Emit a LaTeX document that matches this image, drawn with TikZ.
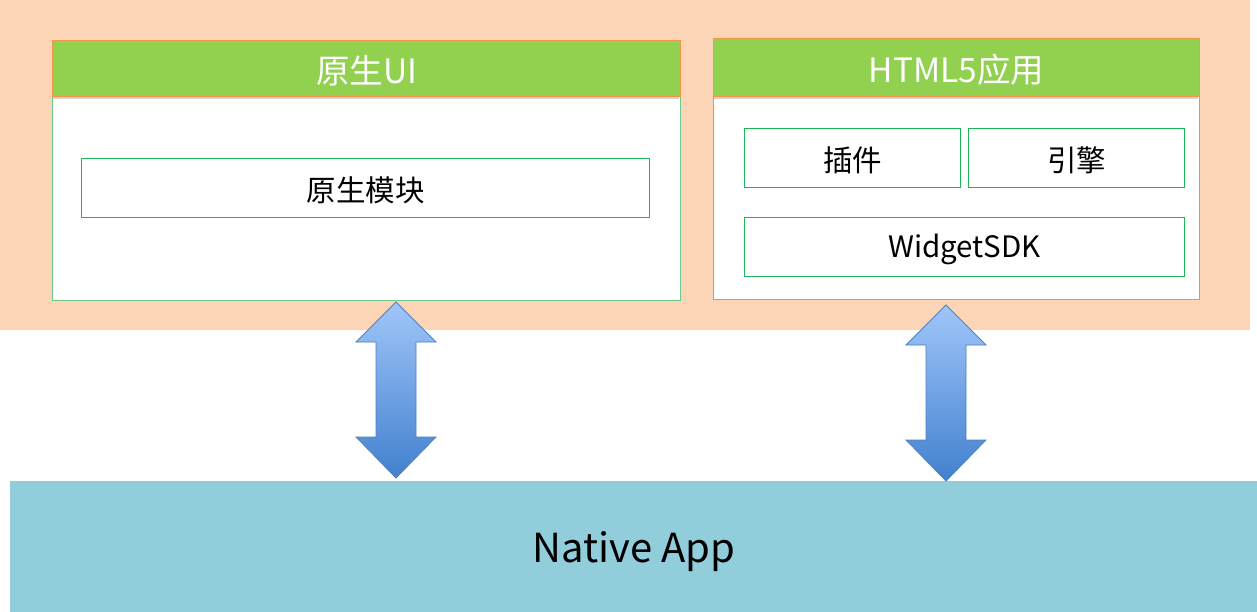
\documentclass[tikz,border=0pt]{standalone}
\usepackage{fontspec}
\setmainfont{Noto Sans CJK SC}
\usetikzlibrary{positioning}
\definecolor{peach}{RGB}{251,213,181}
\definecolor{hdrgreen}{RGB}{146,208,80}
\definecolor{hdrorange}{RGB}{240,150,70}
\definecolor{boxgreen}{RGB}{30,180,90}
\definecolor{panelgreen}{RGB}{110,200,140}
\definecolor{appblue}{RGB}{146,205,220}
\definecolor{arrtop}{RGB}{160,198,250}
\definecolor{arrbot}{RGB}{66,128,206}
\definecolor{arredge}{RGB}{79,129,189}
\newcommand{\lowertext}[2]{\raisebox{-#1}[\height][\depth]{#2}}
\tikzset{
  panel/.style={draw=panelgreen, line width=1pt, fill=white},
  header/.style={draw=hdrorange, line width=1pt, fill=hdrgreen, text=white, font=\fontsize{33.5}{38}\selectfont},
  inner/.style={draw=boxgreen, line width=1pt, fill=white, font=\fontsize{29.5}{34}\selectfont},
  bigarrow/.style={draw=arredge, line width=0.8pt, top color=arrtop, bottom color=arrbot},
}
\begin{document}
\begin{tikzpicture}[x=1pt,y=-1pt]
\useasboundingbox (0,0) rectangle (1257,612);
\fill[white] (0,0) rectangle (1257,612);
% background layers
\fill[peach] (0,0) rectangle (1250,330);
\node[fill=appblue, minimum width=1247pt, minimum height=131pt, inner sep=0pt, anchor=north west,
  font=\fontsize{40}{46}\selectfont] (app) at (10,481) {\lowertext{5pt}{Native App}};
% left panel
\node[panel, minimum width=628pt, minimum height=260pt, inner sep=0pt, anchor=north west] (lp) at (52,40) {};
\fill[black!35, opacity=0.5] (53,96) rectangle (679,99);
\node[header, minimum width=628pt, minimum height=56pt, inner sep=0pt, anchor=north west] (lh) at (52,40) {\lowertext{2pt}{原生UI}};
\node[inner, minimum width=568pt, minimum height=59pt, inner sep=0pt, anchor=north west] (lm) at (81,158) {\lowertext{2pt}{原生模块}};
% right panel
\node[panel, minimum width=486pt, minimum height=261pt, inner sep=0pt, anchor=north west] (rp) at (713,38) {};
\fill[black!35, opacity=0.5] (714,96) rectangle (1198,99);
\node[header, minimum width=486pt, minimum height=58pt, inner sep=0pt, anchor=north west] (rh) at (713,38) {\lowertext{2pt}{HTML5应用}};
\node[inner, minimum width=216pt, minimum height=59pt, inner sep=0pt, anchor=north west] (plug) at (744,128) {\lowertext{2pt}{插件}};
\node[inner, minimum width=216pt, minimum height=59pt, inner sep=0pt, anchor=north west] (eng) at (968,128) {\lowertext{2pt}{引擎}};
\node[inner, minimum width=440pt, minimum height=59pt, inner sep=0pt, anchor=north west] (sdk) at (744,217) {\lowertext{2pt}{WidgetSDK}};
% double arrows
\coordinate (a1t) at (396,302);
\coordinate (a1b) at (396,478);
\coordinate (a2t) at (946,305);
\coordinate (a2b) at (946,481);
\foreach \t/\b in {a1t/a1b, a2t/a2b}{
  \shade[bigarrow]
    (\t) -- ([xshift=40pt,yshift=-40pt]\t) -- ([xshift=20pt,yshift=-40pt]\t)
    -- ([xshift=20pt,yshift=41pt]\b) -- ([xshift=40pt,yshift=41pt]\b) -- (\b)
    -- ([xshift=-40pt,yshift=41pt]\b) -- ([xshift=-20pt,yshift=41pt]\b)
    -- ([xshift=-20pt,yshift=-40pt]\t) -- ([xshift=-40pt,yshift=-40pt]\t) -- cycle;
}
\end{tikzpicture}
\end{document}
